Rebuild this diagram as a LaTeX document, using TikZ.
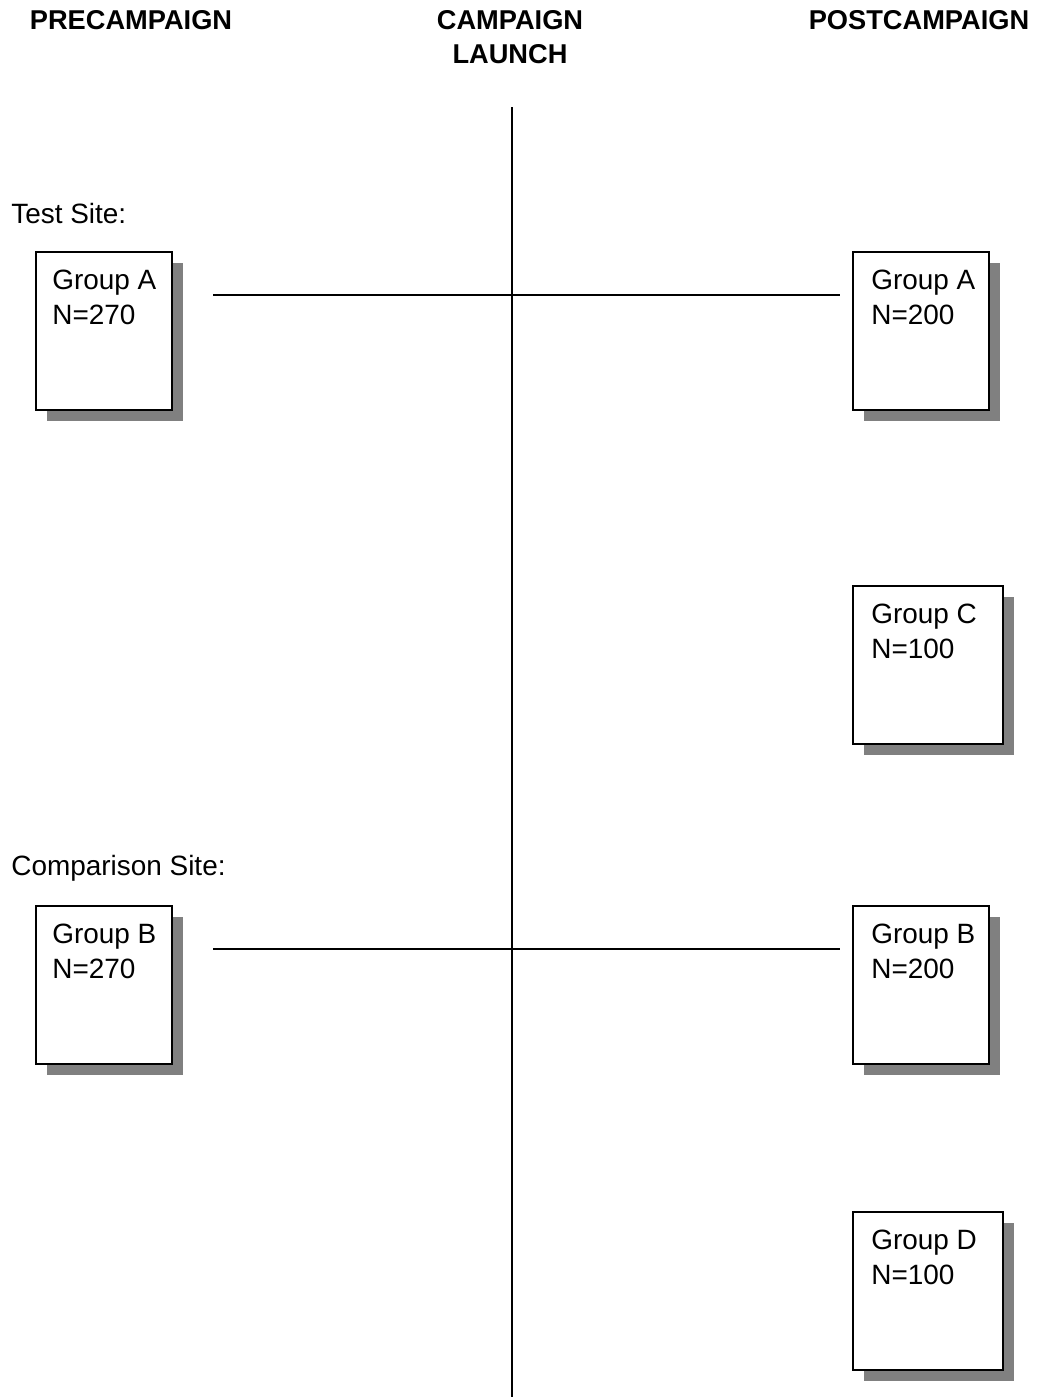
\documentclass[tikz,border=0pt]{standalone}
\usepackage{fontspec}
\setmainfont{Liberation Sans}
\usetikzlibrary{positioning, shadows}
\tikzset{
  grpbox/.style={draw, line width=1.1pt, fill=white, inner sep=0pt, anchor=north west,
    minimum width=2.72cm, minimum height=3.16cm,
    drop shadow={shadow xshift=0.23cm, shadow yshift=-0.23cm, fill=black!50, opacity=1}},
  widebox/.style={grpbox, minimum width=3.0cm},
  grptext/.style={inner sep=0pt, anchor=north west, align=left,
    font=\fontsize{15.9}{19.8}\selectfont},
  headtext/.style={inner sep=0pt, anchor=north, align=center,
    font=\fontsize{15.5}{19.3}\selectfont\bfseries},
  sitetext/.style={inner sep=0pt, anchor=base west, font=\fontsize{15.9}{19}\selectfont},
  timeline/.style={line width=1.1pt}
}
\begin{document}
\begin{tikzpicture}[x=0.02cm, y=-0.02cm]
    \useasboundingbox (0,0) rectangle (1040,1397);

    % Headings
    \node[headtext] (pre) at (131,10) {PRECAMPAIGN};
    \node[headtext] (launch) at (510,10) {CAMPAIGN\\LAUNCH};
    \node[headtext] (post) at (919,10) {POSTCAMPAIGN};

    % Campaign launch line
    \coordinate (top) at (512,107);
    \coordinate (bottom) at (512,1397);
    \draw[timeline] (top) -- (bottom);

    % Test site
    \node[sitetext] (test) at (11,223) {Test Site:};
    \node[grpbox] (preA) at (35,251) {};
    \node[grptext] (preAtxt) at ([shift={(0.34cm,-0.37cm)}]preA.north west) {Group A\\N=270};
    \node[grpbox] (postA) at (852,251) {};
    \node[grptext] (postAtxt) at ([shift={(0.38cm,-0.37cm)}]postA.north west) {Group A\\N=200};
    \node[widebox] (postC) at (852,585) {};
    \node[grptext] (postCtxt) at ([shift={(0.38cm,-0.37cm)}]postC.north west) {Group C\\N=100};
    \coordinate (testL) at (213,295);
    \coordinate (testR) at (840,295);
    \draw[timeline] (testL) -- (testR);

    % Comparison site
    \node[sitetext] (comp) at (11,875) {Comparison Site:};
    \node[grpbox] (preB) at (35,905) {};
    \node[grptext] (preBtxt) at ([shift={(0.34cm,-0.37cm)}]preB.north west) {Group B\\N=270};
    \node[grpbox] (postB) at (852,905) {};
    \node[grptext] (postBtxt) at ([shift={(0.38cm,-0.37cm)}]postB.north west) {Group B\\N=200};
    \node[widebox] (postD) at (852,1211) {};
    \node[grptext] (postDtxt) at ([shift={(0.38cm,-0.37cm)}]postD.north west) {Group D\\N=100};
    \coordinate (compL) at (213,949);
    \coordinate (compR) at (840,949);
    \draw[timeline] (compL) -- (compR);
\end{tikzpicture}
\end{document}
